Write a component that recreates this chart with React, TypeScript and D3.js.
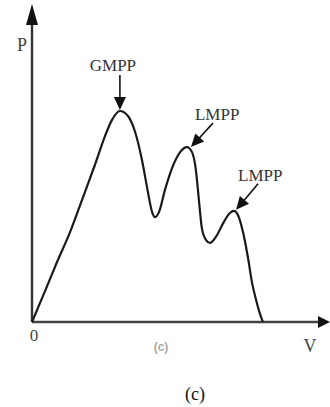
import React from "react";
import * as d3 from "d3";

const V = [0, 4.4, 8.4, 12.8, 16.8, 21.1, 24.5, 26.8, 29.5, 32.2, 34.6, 36.9, 38.9, 40.3, 41.3, 42.6, 44.6, 47.0, 49.7, 52.0, 53.7, 55.0, 56.0, 57.0, 58.4, 59.7, 61.7, 64.4, 66.4, 67.8, 69.1, 70.8, 72.5, 73.8, 75.2, 76.5, 77.5];
const P = [0, 9.9, 19.1, 28.7, 38.9, 50, 59.2, 64.3, 67.2, 65.6, 60.5, 51.6, 41.4, 35.0, 33.4, 35.0, 42.0, 49.0, 54.1, 55.7, 54.1, 48.4, 38.9, 29.9, 26.1, 25.2, 27.1, 31.9, 34.7, 35.4, 34.1, 28.7, 20.4, 12.7, 7.0, 2.6, 0];
const peakLabels = ["GMPP", "LMPP", "LMPP"];
const peakIndex = [8, 19, 29];

const W = 330;
const H = 407;
const SERIF = "'Liberation Serif', 'DejaVu Serif', serif";

function Arrow({ x1, y1, x2, y2, len = 13, hw = 6 }: { x1: number; y1: number; x2: number; y2: number; len?: number; hw?: number }) {
  const dx = x2 - x1;
  const dy = y2 - y1;
  const d = Math.hypot(dx, dy);
  const ux = dx / d;
  const uy = dy / d;
  const bx = x2 - ux * len;
  const by = y2 - uy * len;
  const px = -uy;
  const py = ux;
  const pts = `${x2},${y2} ${bx + px * hw},${by + py * hw} ${bx - px * hw},${by - py * hw}`;
  return (
    <g>
      <line x1={x1} y1={y1} x2={bx + ux * 2} y2={by + uy * 2} stroke="#111" strokeWidth={1.6} />
      <polygon points={pts} fill="#111" />
    </g>
  );
}

export default function App() {
  const x = d3.scaleLinear().domain([0, 100]).range([32, 330]);
  const y = d3.scaleLinear().domain([0, 100]).range([322, 8]);
  const data = V.map((v, i) => [v, P[i]] as [number, number]);
  const line = d3
    .line<[number, number]>()
    .x((d) => x(d[0]))
    .y((d) => y(d[1]))
    .curve(d3.curveMonotoneX);

  const ax = x(0);
  const ay = y(0);

  const ann = peakIndex.map((idx, k) => {
    const px = x(V[idx]);
    const py = y(P[idx]);
    if (k === 0) {
      return { tip: [px, py - 1], from: [px, py - 36], text: [px - 7, py - 40], anchor: "middle" };
    }
    if (k === 1) {
      return { tip: [px + 4, py], from: [px + 26, py - 24], text: [px + 8, py - 27], anchor: "start" };
    }
    return { tip: [px + 2, py - 1], from: [px + 24, py - 27], text: [px + 4, py - 30], anchor: "start" };
  });

  return (
    <svg width={W} height={H} style={{ position: "absolute", left: 0, top: 0, background: "#fff" }}>
      <line x1={ax} y1={ay} x2={ax} y2={18} stroke="#333" strokeWidth={2.4} />
      <polygon points={`${ax},4 ${ax - 6},25 ${ax + 6},25`} fill="#111" />
      <line x1={ax} y1={ay} x2={320} y2={ay} stroke="#444" strokeWidth={2.6} />
      <polygon points={`330,${ay} 318,${ay - 6} 318,${ay + 6}`} fill="#111" />

      <path d={line(data) || ""} fill="none" stroke="#1a1a1a" strokeWidth={2.2} strokeLinejoin="round" />

      {ann.map((a, i) => (
        <g key={i}>
          <text x={a.text[0]} y={a.text[1]} fontSize={17} fill="#333" fontFamily={SERIF} textAnchor={a.anchor as any}>
            {peakLabels[i]}
          </text>
          <Arrow x1={a.from[0]} y1={a.from[1]} x2={a.tip[0]} y2={a.tip[1]} />
        </g>
      ))}

      <text x={22} y={51} fontSize={18} fill="#444" fontFamily={SERIF} textAnchor="middle">P</text>
      <text x={34} y={341} fontSize={17} fill="#444" fontFamily={SERIF} textAnchor="middle">0</text>
      <text x={310} y={352} fontSize={18} fill="#444" fontFamily={SERIF} textAnchor="middle">V</text>
      <text x={161} y={351} fontSize={12} fill="#aaa" fontWeight="bold" fontFamily="'Liberation Sans', Arial, sans-serif" textAnchor="middle">(c)</text>
      <text x={195} y={400} fontSize={18} fill="#111" fontFamily={SERIF} textAnchor="middle">(c)</text>
    </svg>
  );
}
